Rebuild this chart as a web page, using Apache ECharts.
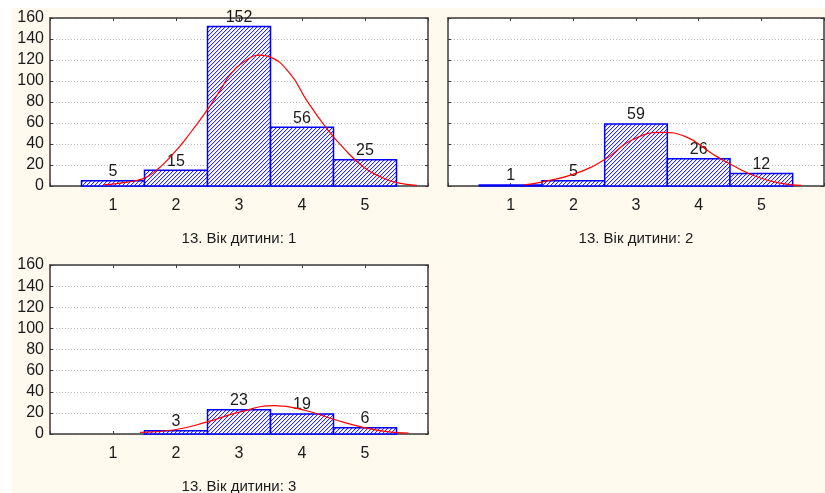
<!DOCTYPE html>
<html>
<head>
<meta charset="utf-8">
<script src="https://cdn.jsdelivr.net/npm/echarts@6/dist/echarts.min.js"></script>
<style>html,body{margin:0;padding:0;background:#fff;}#c{width:825px;height:493px;}</style>
</head>
<body>
<div id="c"></div>
<script>
// ---- data ----
var categories = [1, 2, 3, 4, 5];
var counts1 = [5, 15, 152, 56, 25];
var counts2 = [1, 5, 59, 26, 12];
var counts3 = [0, 3, 23, 19, 6];
var curve1X = [0.85, 1.2, 1.48, 1.69, 1.96, 2.22, 2.49, 2.7, 2.86, 3.1, 3.33, 3.49, 3.81, 4.07, 4.39, 4.66, 4.97, 5.24, 5.5, 5.82];
var curve1Y = [1, 3.5, 7, 15, 31, 50, 72, 91, 106, 119, 124.7, 123, 107, 82, 55, 36, 18.4, 8.9, 3.2, 0.6];
var curve2X = [1.22, 1.51, 2.04, 2.52, 2.94, 3.42, 3.79, 4.21, 4.53, 4.95, 5.32, 5.64];
var curve2Y = [1, 4, 12, 26, 44, 51, 47, 31, 20, 8.3, 2.5, 0.6];
var curve3X = [1.43, 1.96, 2.51, 3.02, 3.57, 4.07, 4.5, 4.97, 5.34, 5.69];
var curve3Y = [1.6, 3.8, 11.7, 21, 26.8, 22, 14, 6.3, 2.2, 0.8];
var yTicks = [0, 20, 40, 60, 80, 100, 120, 140, 160];
var titles = ['13. Вік дитини: 1', '13. Вік дитини: 2', '13. Вік дитини: 3'];

// ---- hatch pattern (pixel diagonal "/") ----
var tile = document.createElement('canvas');
tile.width = 4; tile.height = 4;
var tc = tile.getContext('2d');
tc.fillStyle = '#ffffff'; tc.fillRect(0, 0, 4, 4);
for (var i = 0; i < 4; i++) {
  tc.fillStyle = '#2828ff';
  tc.fillRect(i, 3 - i, 1, 1);
  tc.fillStyle = '#d4d4ff';
  tc.fillRect((i + 1) % 4, 3 - i, 1, 1);
}

var FONT = '"Liberation Sans", Arial, sans-serif';
var TXT = '#1a1a1a';
var chart = echarts.init(document.getElementById('c'), null, {renderer: 'canvas'});

var grids = [
  {left: 50, top: 18, width: 378, height: 168, outerBoundsMode: 'none', containLabel: false},
  {left: 448, top: 18, width: 376, height: 168, outerBoundsMode: 'none', containLabel: false},
  {left: 50, top: 265, width: 378, height: 169, outerBoundsMode: 'none', containLabel: false}
];
var showY = [true, false, true];
var countsAll = [counts1, counts2, counts3];
var curvesX = [curve1X, curve2X, curve3X];
var curvesY = [curve1Y, curve2Y, curve3Y];

var xAxes = [], yAxes = [], series = [];
function axisLine() { return {show: true, onZero: false, lineStyle: {color: '#3a3a3a', width: 1.5}}; }
function tick() { return {show: true, inside: true, length: 3, lineStyle: {color: '#3a3a3a'}}; }
grids.forEach(function (g, i) {
  xAxes.push({
    type: 'value', gridIndex: i, min: 0, max: 6, interval: 1, position: 'bottom',
    axisLine: axisLine(), axisTick: tick(),
    axisLabel: {show: true, margin: 12, fontSize: 16, color: TXT, fontFamily: FONT,
      formatter: function (v) { return categories.indexOf(v) >= 0 ? String(v) : ''; }},
    splitLine: {show: false},
    name: titles[i], nameLocation: 'middle', nameGap: 45,
    nameTextStyle: {fontSize: 15, color: TXT, fontFamily: FONT}
  });
  xAxes.push({
    type: 'value', gridIndex: i, min: 0, max: 6, interval: 1, position: 'top',
    axisLine: axisLine(), axisTick: tick(),
    axisLabel: {show: false}, splitLine: {show: false}
  });
  yAxes.push({
    type: 'value', gridIndex: i, min: yTicks[0], max: yTicks[yTicks.length - 1], interval: 20,
    position: 'left',
    axisLine: axisLine(), axisTick: tick(),
    axisLabel: {show: showY[i], margin: 6, fontSize: 16, color: TXT, fontFamily: FONT},
    splitLine: {show: true, lineStyle: {color: '#bdbdbd', type: [1, 2], width: 1}}
  });
  yAxes.push({
    type: 'value', gridIndex: i, min: yTicks[0], max: yTicks[yTicks.length - 1], interval: 20,
    position: 'right',
    axisLine: axisLine(), axisTick: tick(),
    axisLabel: {show: false}, splitLine: {show: false}
  });
  var counts = countsAll[i];
  series.push({
    type: 'custom', xAxisIndex: 2 * i, yAxisIndex: 2 * i, z: 2,
    data: categories.map(function (c, k) { return [c, counts[k]]; }),
    renderItem: function (params, api) {
      var x = api.value(0), v = api.value(1);
      var p0 = api.coord([x - 0.5, 0]);
      var p1 = api.coord([x + 0.5, v]);
      var top = api.coord([x, v]);
      var children = [];
      if (v > 0) {
        children.push({
          type: 'rect',
          shape: {x: p0[0], y: p1[1], width: p1[0] - p0[0], height: p0[1] - p1[1]},
          style: {fill: {image: tile, repeat: 'repeat'}, stroke: '#0000ff', lineWidth: 1.5}
        });
        children.push({
          type: 'text', z2: 10,
          style: {text: String(v), x: top[0], y: top[1] - 1, textAlign: 'center', textVerticalAlign: 'bottom',
            fill: TXT, font: '16px ' + FONT}
        });
      }
      return {type: 'group', children: children};
    }
  });
  series.push({
    type: 'line', xAxisIndex: 2 * i, yAxisIndex: 2 * i, z: 3,
    data: curvesX[i].map(function (x, k) { return [x, curvesY[i][k]]; }),
    smooth: 0.5, showSymbol: false, symbol: 'none',
    lineStyle: {color: '#ff0000', width: 1.2}
  });
});

chart.setOption({
  animation: false,
  backgroundColor: '#ffffff',
  graphic: [
    {type: 'rect', z: -10, shape: {x: 12, y: 8, width: 813, height: 485}, style: {fill: '#fff9ee'}},
    {type: 'rect', z: -9, shape: {x: 50, y: 18, width: 378, height: 168}, style: {fill: '#ffffff'}},
    {type: 'rect', z: -9, shape: {x: 448, y: 18, width: 376, height: 168}, style: {fill: '#ffffff'}},
    {type: 'rect', z: -9, shape: {x: 50, y: 265, width: 378, height: 169}, style: {fill: '#ffffff'}}
  ],
  grid: grids,
  xAxis: xAxes,
  yAxis: yAxes,
  series: series
});
</script>
</body>
</html>
